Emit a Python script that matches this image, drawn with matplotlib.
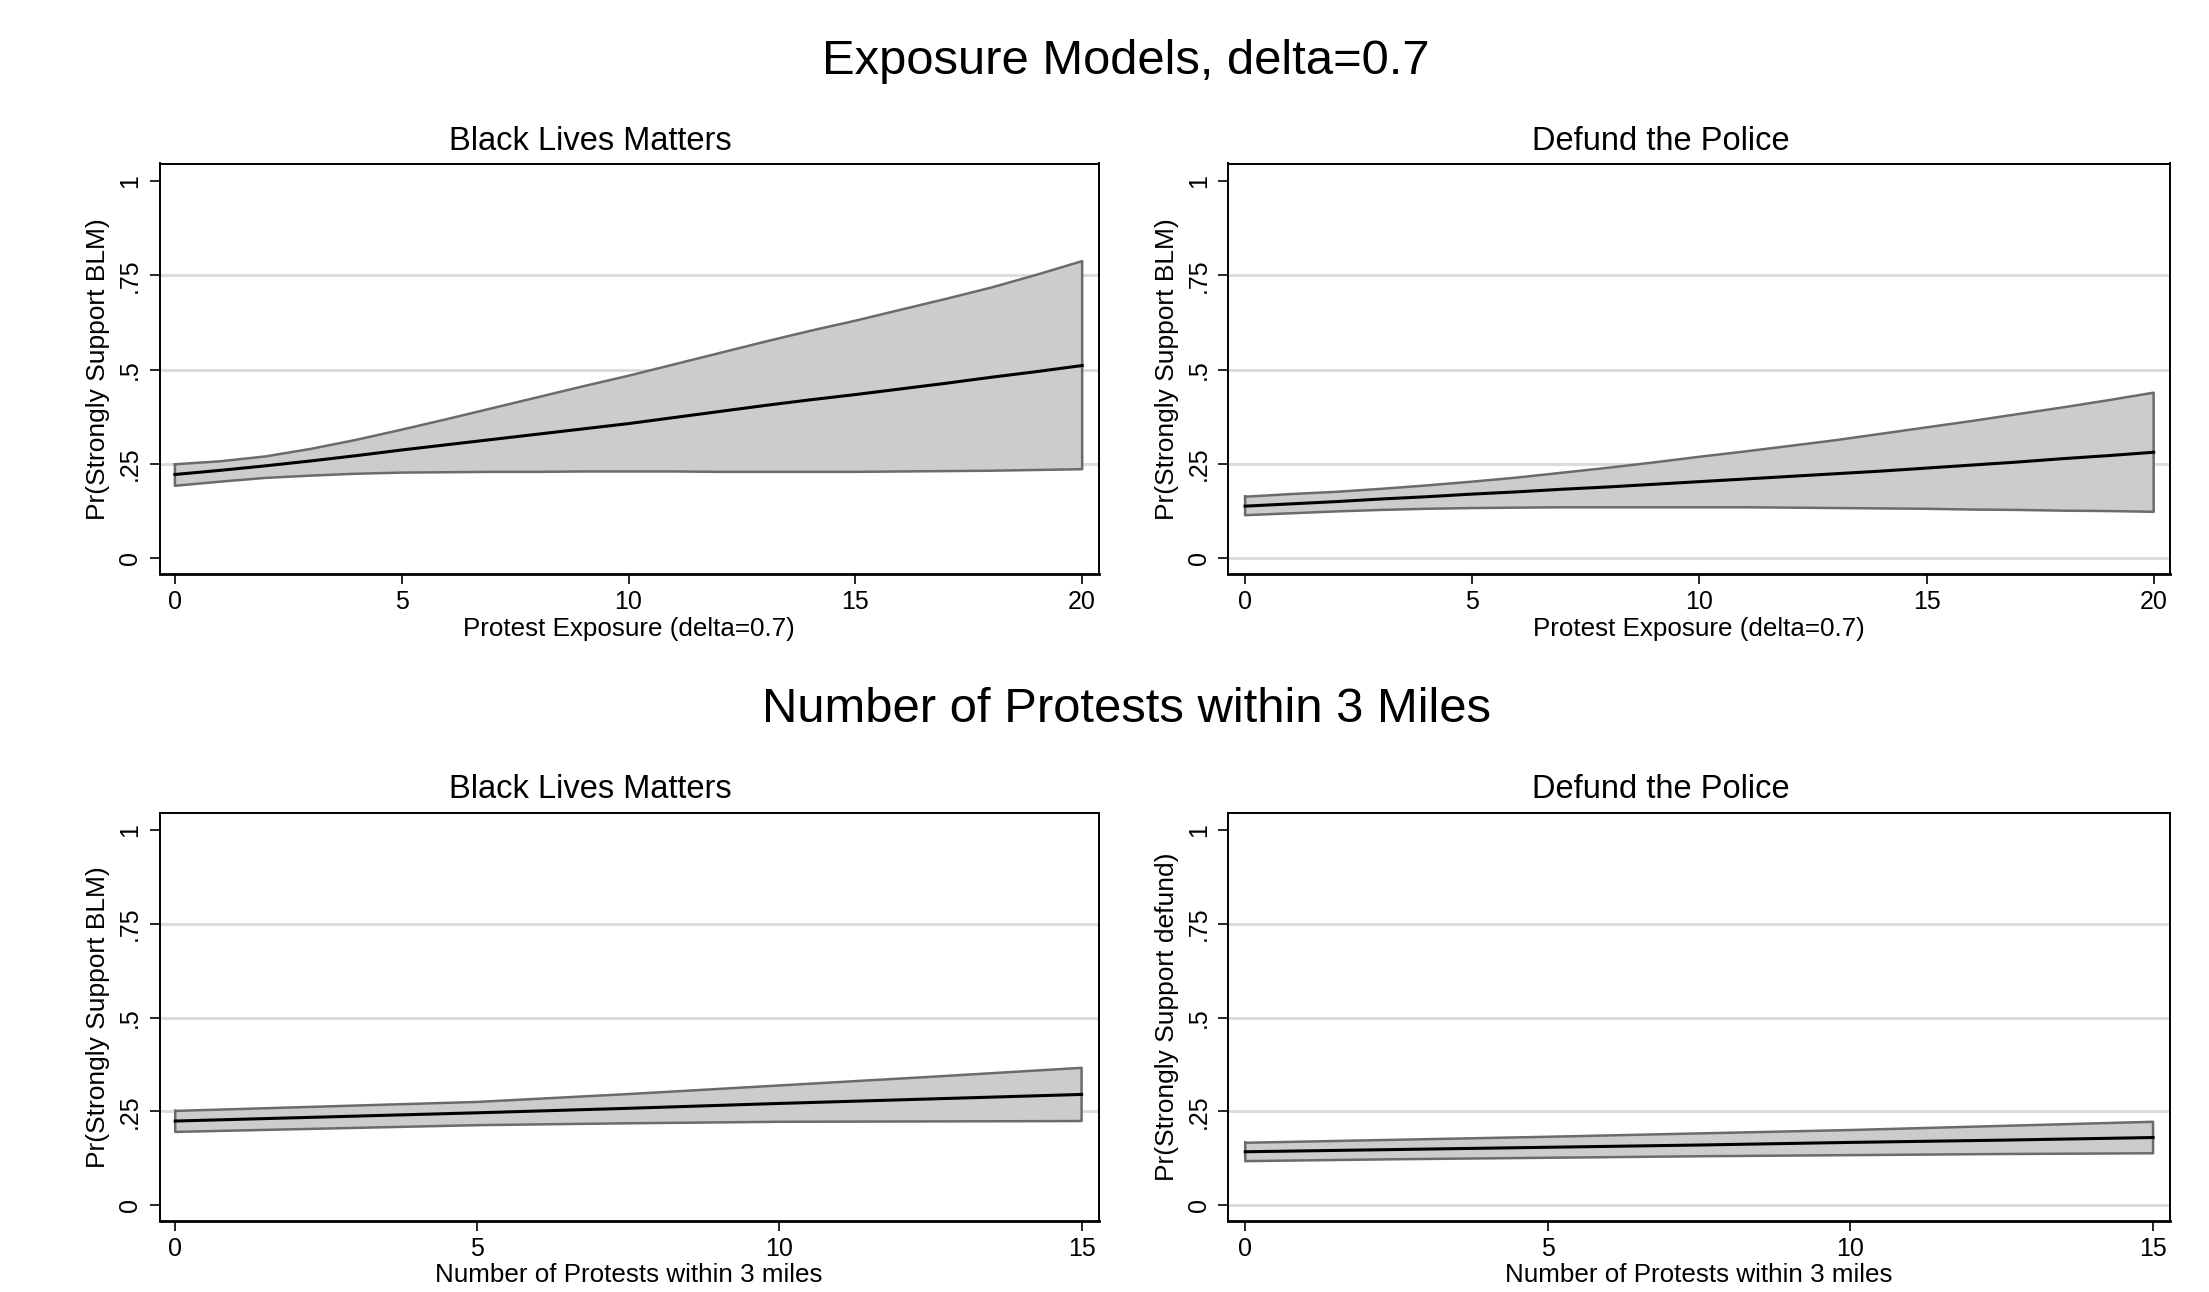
import numpy as np
import matplotlib
matplotlib.use("Agg")
import matplotlib.pyplot as plt

plt.rcParams['font.family'] = ['Liberation Sans', 'DejaVu Sans']

# ---- data ----
x_exposure = list(range(0, 21))
blm_exp_mean = [0.222, 0.233, 0.245, 0.258, 0.272, 0.287, 0.301, 0.315, 0.329, 0.343, 0.357,
                0.373, 0.389, 0.405, 0.420, 0.434, 0.449, 0.464, 0.480, 0.495, 0.511]
blm_exp_upper = [0.249, 0.257, 0.270, 0.290, 0.314, 0.341, 0.369, 0.398, 0.427, 0.456, 0.484,
                 0.514, 0.544, 0.574, 0.603, 0.630, 0.659, 0.688, 0.718, 0.752, 0.788]
blm_exp_lower = [0.192, 0.203, 0.213, 0.219, 0.224, 0.227, 0.228, 0.229, 0.229, 0.230, 0.230,
                 0.230, 0.229, 0.229, 0.229, 0.229, 0.230, 0.231, 0.232, 0.234, 0.236]

def_exp_mean = [0.138, 0.144, 0.150, 0.157, 0.163, 0.170, 0.176, 0.183, 0.189, 0.196, 0.203,
                0.210, 0.217, 0.224, 0.231, 0.239, 0.247, 0.255, 0.264, 0.272, 0.281]
def_exp_upper = [0.163, 0.170, 0.176, 0.184, 0.193, 0.203, 0.214, 0.227, 0.240, 0.254, 0.269,
                 0.283, 0.298, 0.313, 0.330, 0.347, 0.364, 0.382, 0.400, 0.419, 0.439]
def_exp_lower = [0.114, 0.119, 0.124, 0.128, 0.131, 0.133, 0.134, 0.135, 0.135, 0.135, 0.135,
                 0.135, 0.134, 0.133, 0.132, 0.131, 0.129, 0.128, 0.126, 0.125, 0.123]

x_count = [0, 2.5, 5, 7.5, 10, 12.5, 15]
blm_cnt_mean = [0.224, 0.235, 0.246, 0.258, 0.271, 0.283, 0.295]
blm_cnt_upper = [0.251, 0.263, 0.275, 0.296, 0.319, 0.342, 0.366]
blm_cnt_lower = [0.195, 0.204, 0.213, 0.218, 0.222, 0.223, 0.224]

def_cnt_mean = [0.142, 0.148, 0.154, 0.160, 0.167, 0.173, 0.180]
def_cnt_upper = [0.166, 0.174, 0.182, 0.191, 0.200, 0.211, 0.222]
def_cnt_lower = [0.117, 0.122, 0.126, 0.130, 0.133, 0.136, 0.138]

y_ticks = [0, 0.25, 0.5, 0.75, 1]
y_ticklabels = ["0", ".25", ".5", ".75", "1"]
x_ticks_exp = [0, 5, 10, 15, 20]
x_ticks_cnt = [0, 5, 10, 15]

W, H = 2209, 1292
fig = plt.figure(figsize=(W / 100, H / 100), dpi=100)


def px_axes(l, t, r, b):
    return fig.add_axes([l / W, 1 - b / H, (r - l) / W, (b - t) / H])


def panel(ax, x, lo, mid, hi, xticks, xlabel, ylabel, xlim, grid_vals):
    for g in grid_vals:
        ax.axhline(g, color='#dcdcdc', lw=2.2, zorder=0)
    ax.fill_between(x, lo, hi, facecolor='#cccccc', edgecolor='none', zorder=1)
    poly_x = list(x) + list(x[::-1]) + [x[0]]
    poly_y = list(hi) + list(lo[::-1]) + [hi[0]]
    ax.plot(poly_x, poly_y, color='#6b6b6b', lw=1.8, zorder=2)
    ax.plot(x, mid, color='black', lw=2.2, zorder=3)
    ax.set_xlim(*xlim)
    ax.set_ylim(-0.042, 1.047)
    ax.set_xticks(xticks)
    ax.set_xticklabels([str(t) for t in xticks])
    ax.set_yticks(y_ticks)
    ax.set_yticklabels(y_ticklabels, rotation=90, va='center')
    ax.tick_params(axis='both', direction='out', length=7.5, width=1.2,
                   labelsize=18, colors='black')
    ax.tick_params(axis='x', pad=4)
    ax.tick_params(axis='y', pad=5)
    for s in ax.spines.values():
        s.set_color('black')
        s.set_linewidth(1.4)
    ax.spines['bottom'].set_linewidth(2.0)
    ax.set_xlabel(xlabel, fontsize=18.7, labelpad=2)
    ax.set_ylabel(ylabel, fontsize=19, labelpad=6)


ax1 = px_axes(159.5, 163.5, 1098.5, 574)
panel(ax1, x_exposure, blm_exp_lower, blm_exp_mean, blm_exp_upper, x_ticks_exp,
      "Protest Exposure (delta=0.7)", "Pr(Strongly Support BLM)", (-0.34, 20.36),
      [0.25, 0.5, 0.75])

ax2 = px_axes(1228.3, 163.5, 2170, 574)
panel(ax2, x_exposure, def_exp_lower, def_exp_mean, def_exp_upper, x_ticks_exp,
      "Protest Exposure (delta=0.7)", "Pr(Strongly Support BLM)", (-0.37, 20.36),
      [0, 0.25, 0.5, 0.75])

ax3 = px_axes(159.5, 812.7, 1098.5, 1220.7)
panel(ax3, x_count, blm_cnt_lower, blm_cnt_mean, blm_cnt_upper, x_ticks_cnt,
      "Number of Protests within 3 miles", "Pr(Strongly Support BLM)", (-0.26, 15.28),
      [0.25, 0.5, 0.75])

ax4 = px_axes(1228.3, 812.7, 2170, 1220.7)
panel(ax4, x_count, def_cnt_lower, def_cnt_mean, def_cnt_upper, x_ticks_cnt,
      "Number of Protests within 3 miles", "Pr(Strongly Support defund)", (-0.28, 15.28),
      [0, 0.25, 0.5, 0.75])


def ftext(xp, yp, s, size):
    fig.text(xp / W, 1 - yp / H, s, ha='center', va='center', fontsize=size, color='black')


ftext(1126, 61, "Exposure Models, delta=0.7", 35.3)
ftext(1126, 709, "Number of Protests within 3 Miles", 35.3)
ftext(590, 141, "Black Lives Matters", 23.5)
ftext(1661, 141, "Defund the Police", 23.5)
ftext(590, 789, "Black Lives Matters", 23.5)
ftext(1661, 789, "Defund the Police", 23.5)

fig.savefig("out.png", dpi=100, facecolor='white')
